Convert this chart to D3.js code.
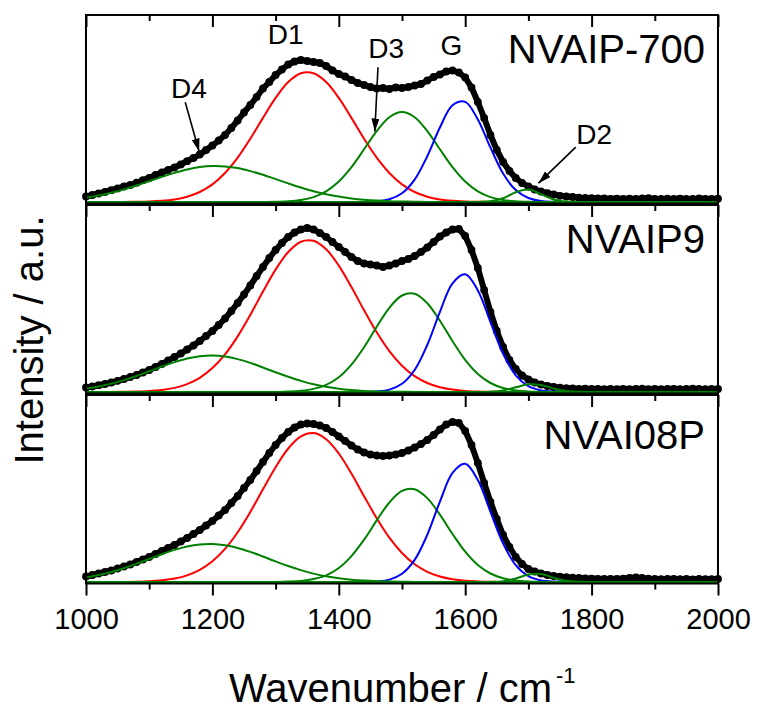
<!DOCTYPE html>
<html><head><meta charset="utf-8">
<script src="https://cdn.jsdelivr.net/npm/d3@7"></script>
<style>
body{margin:0;background:#fff}
svg text{font-family:"Liberation Sans",Arial,Helvetica,sans-serif;fill:#000}
</style>
</head><body>
<svg id="chart" width="759" height="711"></svg>
<script>
// ---------- DATA ----------
const sampleNames = ["NVAIP-700", "NVAIP9", "NVAI08P"];
const majorTicks = [1000, 1200, 1400, 1600, 1800, 2000];
const minorTicks = [1100, 1300, 1500, 1700, 1900];
const tickLabels = ["1000", "1200", "1400", "1600", "1800", "2000"];
const xTitle = "Wavenumber / cm";
const xTitleSup = "-1";
const yTitle = "Intensity / a.u.";
const bandNames = ["D1", "D3", "G", "D2", "D4"];
const bandColors = ["#ff0000", "#008000", "#0000ff", "#008000", "#008000"];

// measured spectra: 1000..2000 step 10 cm-1
const wnData = d3.range(1000, 2001, 10);
const wnFit = d3.range(1000, 2001, 20);

const dataP700 = [
 5.5,7.0,8.5,10.0,11.8,13.6,15.5,17.0,19.3,21.8,
 24.0,27.0,29.5,32.0,34.5,37.5,40.8,44.0,47.5,52.0,
 56.5,61.5,67.0,74.0,81.5,89.5,97.0,105.0,113.5,120.0,
 127.0,132.5,137.5,140.5,142.0,141.0,140.0,139.0,136.0,131.5,
 128.0,125.5,122.0,119.0,117.0,115.0,113.5,114.0,113.0,114.5,
 114.0,115.0,116.5,118.0,121.5,125.0,127.5,130.5,131.5,129.5,
 124.5,114.5,100.0,84.0,67.0,52.0,40.0,31.0,24.0,19.0,
 15.5,12.5,10.5,8.8,7.5,6.2,5.5,5.0,4.3,4.0,
 3.8,3.5,3.6,3.2,3.4,3.0,3.3,3.0,3.5,3.8,
 3.2,3.0,3.3,3.0,3.4,3.1,3.0,3.5,3.2,3.0,
 3.3];
const dataP9 = [
 4.5,5.5,6.8,8.0,9.5,11.2,13.0,15.0,17.0,19.5,
 22.0,25.0,28.0,31.5,35.0,38.5,42.5,46.5,51.0,56.0,
 61.0,67.0,73.5,81.0,89.0,97.5,106.5,116.0,125.0,134.0,
 142.0,149.0,155.0,159.5,162.5,164.0,162.5,159.0,155.0,150.0,
 145.0,140.0,135.0,131.0,128.5,127.5,126.5,125.0,126.5,128.5,
 131.0,133.0,136.0,140.0,144.5,150.0,155.5,159.5,162.5,163.0,
 156.0,142.0,124.0,102.0,80.0,61.0,45.0,32.0,23.0,16.5,
 12.5,9.5,7.5,6.0,5.0,4.3,3.8,3.5,3.2,3.3,
 3.0,3.2,2.8,3.0,2.9,3.2,2.8,3.0,3.3,2.9,
 3.1,2.8,3.0,3.2,2.9,3.0,3.3,3.0,2.8,3.1,
 3.0];
const data08P = [
 5.5,7.0,8.5,10.0,11.5,13.5,15.5,17.5,20.0,22.5,
 25.0,28.0,31.0,34.0,37.0,40.5,44.0,48.0,52.0,56.5,
 61.0,66.5,72.0,79.0,86.0,94.0,102.0,111.0,120.0,129.0,
 137.0,144.0,150.0,154.5,157.5,158.5,158.0,156.5,154.0,150.0,
 145.5,141.0,136.5,132.5,129.5,127.5,126.5,126.0,126.5,127.5,
 129.0,131.5,134.5,138.0,142.0,147.0,152.5,157.5,160.0,159.0,
 151.0,137.0,119.0,99.0,80.0,63.0,47.0,35.0,25.0,18.0,
 13.0,10.5,8.5,7.0,6.0,5.3,4.8,4.3,4.0,3.6,
 3.4,3.2,3.0,3.2,3.0,3.4,4.0,4.6,4.0,3.3,
 3.0,2.8,3.0,3.2,2.8,3.0,2.7,3.0,2.8,2.9,
 3.0];

// fitted bands: 1000..2000 step 20 cm-1
const p700_D1 = [
 0,0,0,0.1,0.2,0.5,1.2,2.6,5.3,10.0,
 17.6,29.0,44.3,63.3,84.1,104.1,120.0,128.8,128.8,120.0,
 104.1,84.1,63.3,44.3,29.0,17.6,10.0,5.3,2.6,1.2,
 0.5,0.2,0.1,0,0,0,0,0,0,0,
 0,0,0,0,0,0,0,0,0,0,
 0];
const p700_D3 = [
 0,0,0,0,0,0,0,0,0,0,
 0,0,0,0,0.1,0.2,0.7,2.0,4.9,10.6,
 20.4,34.8,52.7,70.9,84.8,90.0,84.8,70.9,52.7,34.8,
 20.4,10.6,4.9,2.0,0.7,0.2,0.1,0,0,0,
 0,0,0,0,0,0,0,0,0,0,
 0];
const p700_G = [
 0,0,0,0,0,0,0,0,0,0,
 0,0,0,0,0,0,0,0,0,0,
 0,0,0.1,0.7,2.7,8.7,22.4,45.8,74.5,96.7,
 100.1,82.5,54.3,28.5,11.9,4.0,1.0,0.2,0,0,
 0,0,0,0,0,0,0,0,0,0,
 0];
const p700_D2 = [
 0,0,0,0,0,0,0,0,0,0,
 0,0,0,0,0,0,0,0,0,0,
 0,0,0,0,0,0,0,0,0,0,
 0,0.1,0.7,3.8,9.7,12.4,7.9,2.5,0.4,0,
 0,0,0,0,0,0,0,0,0,0,
 0];
const p700_D4 = [
 4.4,6.5,9.2,12.6,16.5,20.8,25.1,29.1,32.5,34.9,
 36.0,35.6,33.9,30.9,27.2,22.9,18.6,14.5,10.8,7.8,
 5.4,3.6,2.3,1.4,0.8,0.5,0.3,0.1,0,0,
 0,0,0,0,0,0,0,0,0,0,
 0,0,0,0,0,0,0,0,0,0,
 0];

const p9_D1 = [
 0,0,0.1,0.2,0.4,0.9,2.0,4.1,7.9,14.2,
 23.9,37.6,55.6,77.1,100.4,122.4,140.0,150.3,151.2,142.7,
 126.4,104.9,81.7,59.7,40.9,26.3,15.8,9.0,4.7,2.4,
 1.1,0.5,0.2,0.1,0,0,0,0,0,0,
 0,0,0,0,0,0,0,0,0,0,
 0];
const p9_D3 = [
 0,0,0,0,0,0,0,0,0,0,
 0,0,0,0,0,0.1,0.4,1.2,3.1,7.1,
 14.8,27.4,44.8,65.2,84.2,96.5,98.3,88.8,71.3,50.8,
 32.1,18.0,9.0,4.0,1.6,0.5,0.2,0.1,0,0,
 0,0,0,0,0,0,0,0,0,0,
 0];
const p9_G = [
 0,0,0,0,0,0,0,0,0,0,
 0,0,0,0,0,0,0,0,0,0,
 0,0,0.1,0.6,2.4,8.2,22.0,47.0,80.1,108.7,
 117.7,101.6,69.9,38.3,16.7,5.8,1.6,0.4,0.1,0,
 0,0,0,0,0,0,0,0,0,0,
 0];
const p9_D2 = [
 0,0,0,0,0,0,0,0,0,0,
 0,0,0,0,0,0,0,0,0,0,
 0,0,0,0,0,0,0,0,0,0,
 0,0,0.3,1.6,4.7,7.7,7.1,3.6,1.0,0.2,
 0,0,0,0,0,0,0,0,0,0,
 0];
const p9_D4 = [
 3.6,5.6,8.4,11.9,16.0,20.7,25.5,29.9,33.5,35.8,
 36.5,35.5,32.9,29.1,24.5,19.7,15.2,11.1,7.7,5.2,
 3.3,2.0,1.1,0.6,0.3,0.2,0.1,0,0,0,
 0,0,0,0,0,0,0,0,0,0,
 0,0,0,0,0,0,0,0,0,0,
 0];

const p08_D1 = [
 0,0,0,0.1,0.3,0.7,1.7,3.4,6.6,12.1,
 20.7,33.1,49.8,70.1,92.7,114.8,133.5,145.6,148.9,142.8,
 128.5,108.4,85.8,63.7,44.3,29.0,17.7,10.2,5.5,2.8,
 1.3,0.6,0.2,0.1,0,0,0,0,0,0,
 0,0,0,0,0,0,0,0,0,0,
 0];
const p08_D3 = [
 0,0,0,0,0,0,0,0,0,0,
 0,0,0,0,0,0.1,0.4,1.1,2.9,6.7,
 14.0,25.9,42.3,61.6,79.5,91.1,92.8,83.9,67.3,48.0,
 30.3,17.0,8.5,3.8,1.5,0.5,0.2,0.1,0,0,
 0,0,0,0,0,0,0,0,0,0,
 0];
const p08_G = [
 0,0,0,0,0,0,0,0,0,0,
 0,0,0,0,0,0,0,0,0,0,
 0,0,0.1,0.6,2.4,8.2,22.1,47.2,80.4,109.2,
 118.2,102.0,70.2,38.5,16.8,5.8,1.6,0.4,0.1,0,
 0,0,0,0,0,0,0,0,0,0,
 0];
const p08_D2 = [
 0,0,0,0,0,0,0,0,0,0,
 0,0,0,0,0,0,0,0,0,0,
 0,0,0,0,0,0,0,0,0,0,
 0,0,0.1,0.8,3.5,7.5,8.0,4.3,1.2,0.2,
 0,0,0,0,0,0,0,0,0,0,
 0];
const p08_D4 = [
 4.6,7.0,10.0,13.8,18.3,23.0,27.8,32.1,35.5,37.5,
 37.9,36.7,34.0,30.1,25.5,20.6,16.0,11.9,8.4,5.7,
 3.7,2.3,1.4,0.8,0.4,0.2,0.1,0.1,0,0,
 0,0,0,0,0,0,0,0,0,0,
 0,0,0,0,0,0,0,0,0,0,
 0];

// band annotations in the top panel (wavenumber, intensity)
const annoLabels = [
 {text: "D4", w: 1163, v: 104.5},
 {text: "D1", w: 1316, v: 158.5},
 {text: "D3", w: 1475, v: 144.5},
 {text: "G",  w: 1578, v: 147.5},
 {text: "D2", w: 1804, v: 58.5}
];
const annoArrows = [
 {w0: 1157, v0: 99.8, w1: 1179, v1: 50.5},
 {w0: 1462, v0: 134.8, w1: 1457, v1: 70.5},
 {w0: 1775, v0: 54.8, w1: 1716, v1: 18.8}
];

// ---------- BUILD ----------
const panels = [
 {name: sampleNames[0], data: dataP700, bands: [p700_D1, p700_D3, p700_G, p700_D2, p700_D4]},
 {name: sampleNames[1], data: dataP9,   bands: [p9_D1, p9_D3, p9_G, p9_D2, p9_D4]},
 {name: sampleNames[2], data: data08P,  bands: [p08_D1, p08_D3, p08_G, p08_D2, p08_D4]}
];

const svg = d3.select("#chart");
const left = 86, right = 718;
const panelTops = [15, 205, 395];
const panelH = 188.5;
const labelBaselines = [62.5, 253, 449];

const x = d3.scaleLinear().domain([1000, 2000]).range([left, right]);

const defs = svg.append("defs");
defs.append("marker").attr("id", "ah")
  .attr("markerUnits", "userSpaceOnUse")
  .attr("markerWidth", 14).attr("markerHeight", 8)
  .attr("refX", 13).attr("refY", 4).attr("orient", "auto")
  .append("path").attr("d", "M0,0 L13,4 L0,8 Z").attr("fill", "#000");

panels.forEach((p, pi) => {
  const top = panelTops[pi], bottom = top + panelH;
  const y = d3.scaleLinear().domain([-1.5, 187]).range([bottom, top]);
  const g = svg.append("g");

  // measured data: thick dotted trace
  const dataLine = d3.line().x((d, i) => x(wnData[i])).y(d => y(d));
  g.append("path").datum(p.data).attr("d", dataLine)
    .attr("fill", "none").attr("stroke", "#000").attr("stroke-width", 6)
    .attr("stroke-linejoin", "round");
  g.selectAll("circle.pt").data(p.data).enter().append("circle")
    .attr("class", "pt")
    .attr("cx", (d, i) => x(wnData[i])).attr("cy", d => y(d)).attr("r", 3.9)
    .attr("fill", "#000");

  // fitted bands
  const fitLine = d3.line().x((d, i) => x(wnFit[i])).y(d => y(d)).curve(d3.curveCatmullRom.alpha(0.5));
  p.bands.forEach((b, bi) => {
    g.append("path").datum(b).attr("d", fitLine)
      .attr("fill", "none").attr("stroke", bandColors[bi]).attr("stroke-width", 2);
  });

  // frame
  g.append("rect").attr("x", left).attr("y", top).attr("width", right - left).attr("height", panelH)
    .attr("fill", "none").attr("stroke", "#000").attr("stroke-width", 2);

  // top inward ticks
  const tMaj = g.append("g").attr("transform", `translate(0,${top})`)
    .call(d3.axisBottom(x).tickValues(majorTicks).tickSize(12).tickFormat(""));
  const tMin = g.append("g").attr("transform", `translate(0,${top})`)
    .call(d3.axisBottom(x).tickValues(minorTicks).tickSize(6).tickFormat(""));
  [tMaj, tMin].forEach(a => {
    a.select(".domain").remove();
    a.selectAll("line").attr("stroke", "#000").attr("stroke-width", 2);
  });

  // sample label
  g.append("text").attr("x", 705).attr("y", labelBaselines[pi])
    .attr("text-anchor", "end").attr("font-size", 40).text(p.name);

  if (pi === 0) {
    annoLabels.forEach(a => {
      g.append("text").attr("x", x(a.w)).attr("y", y(a.v))
        .attr("text-anchor", "middle").attr("font-size", 28).text(a.text);
    });
    annoArrows.forEach(a => {
      g.append("line").attr("x1", x(a.w0)).attr("y1", y(a.v0))
        .attr("x2", x(a.w1)).attr("y2", y(a.v1))
        .attr("stroke", "#000").attr("stroke-width", 1.6).attr("marker-end", "url(#ah)");
    });
  }

  if (pi === panels.length - 1) {
    const bMaj = g.append("g").attr("transform", `translate(0,${bottom})`)
      .call(d3.axisBottom(x).tickValues(majorTicks).tickSize(12)
        .tickFormat((d, i) => tickLabels[i]));
    const bMin = g.append("g").attr("transform", `translate(0,${bottom})`)
      .call(d3.axisBottom(x).tickValues(minorTicks).tickSize(6).tickFormat(""));
    [bMaj, bMin].forEach(a => {
      a.select(".domain").remove();
      a.selectAll("line").attr("stroke", "#000").attr("stroke-width", 2);
    });
    bMaj.selectAll("text").attr("y", 45.5).attr("dy", 0)
      .attr("font-size", 29).attr("font-family", '"Liberation Sans",Arial,sans-serif').attr("fill", "#000");
  }
});

// axis titles
const xt = svg.append("text").attr("x", 229).attr("y", 702).attr("font-size", 40);
xt.append("tspan").text(xTitle);
xt.append("tspan").attr("dx", 4).attr("dy", -19).attr("font-size", 22).text(xTitleSup);

svg.append("text").attr("transform", "translate(43,340) rotate(-90)")
  .attr("text-anchor", "middle").attr("font-size", 40).text(yTitle);
</script>
</body></html>
